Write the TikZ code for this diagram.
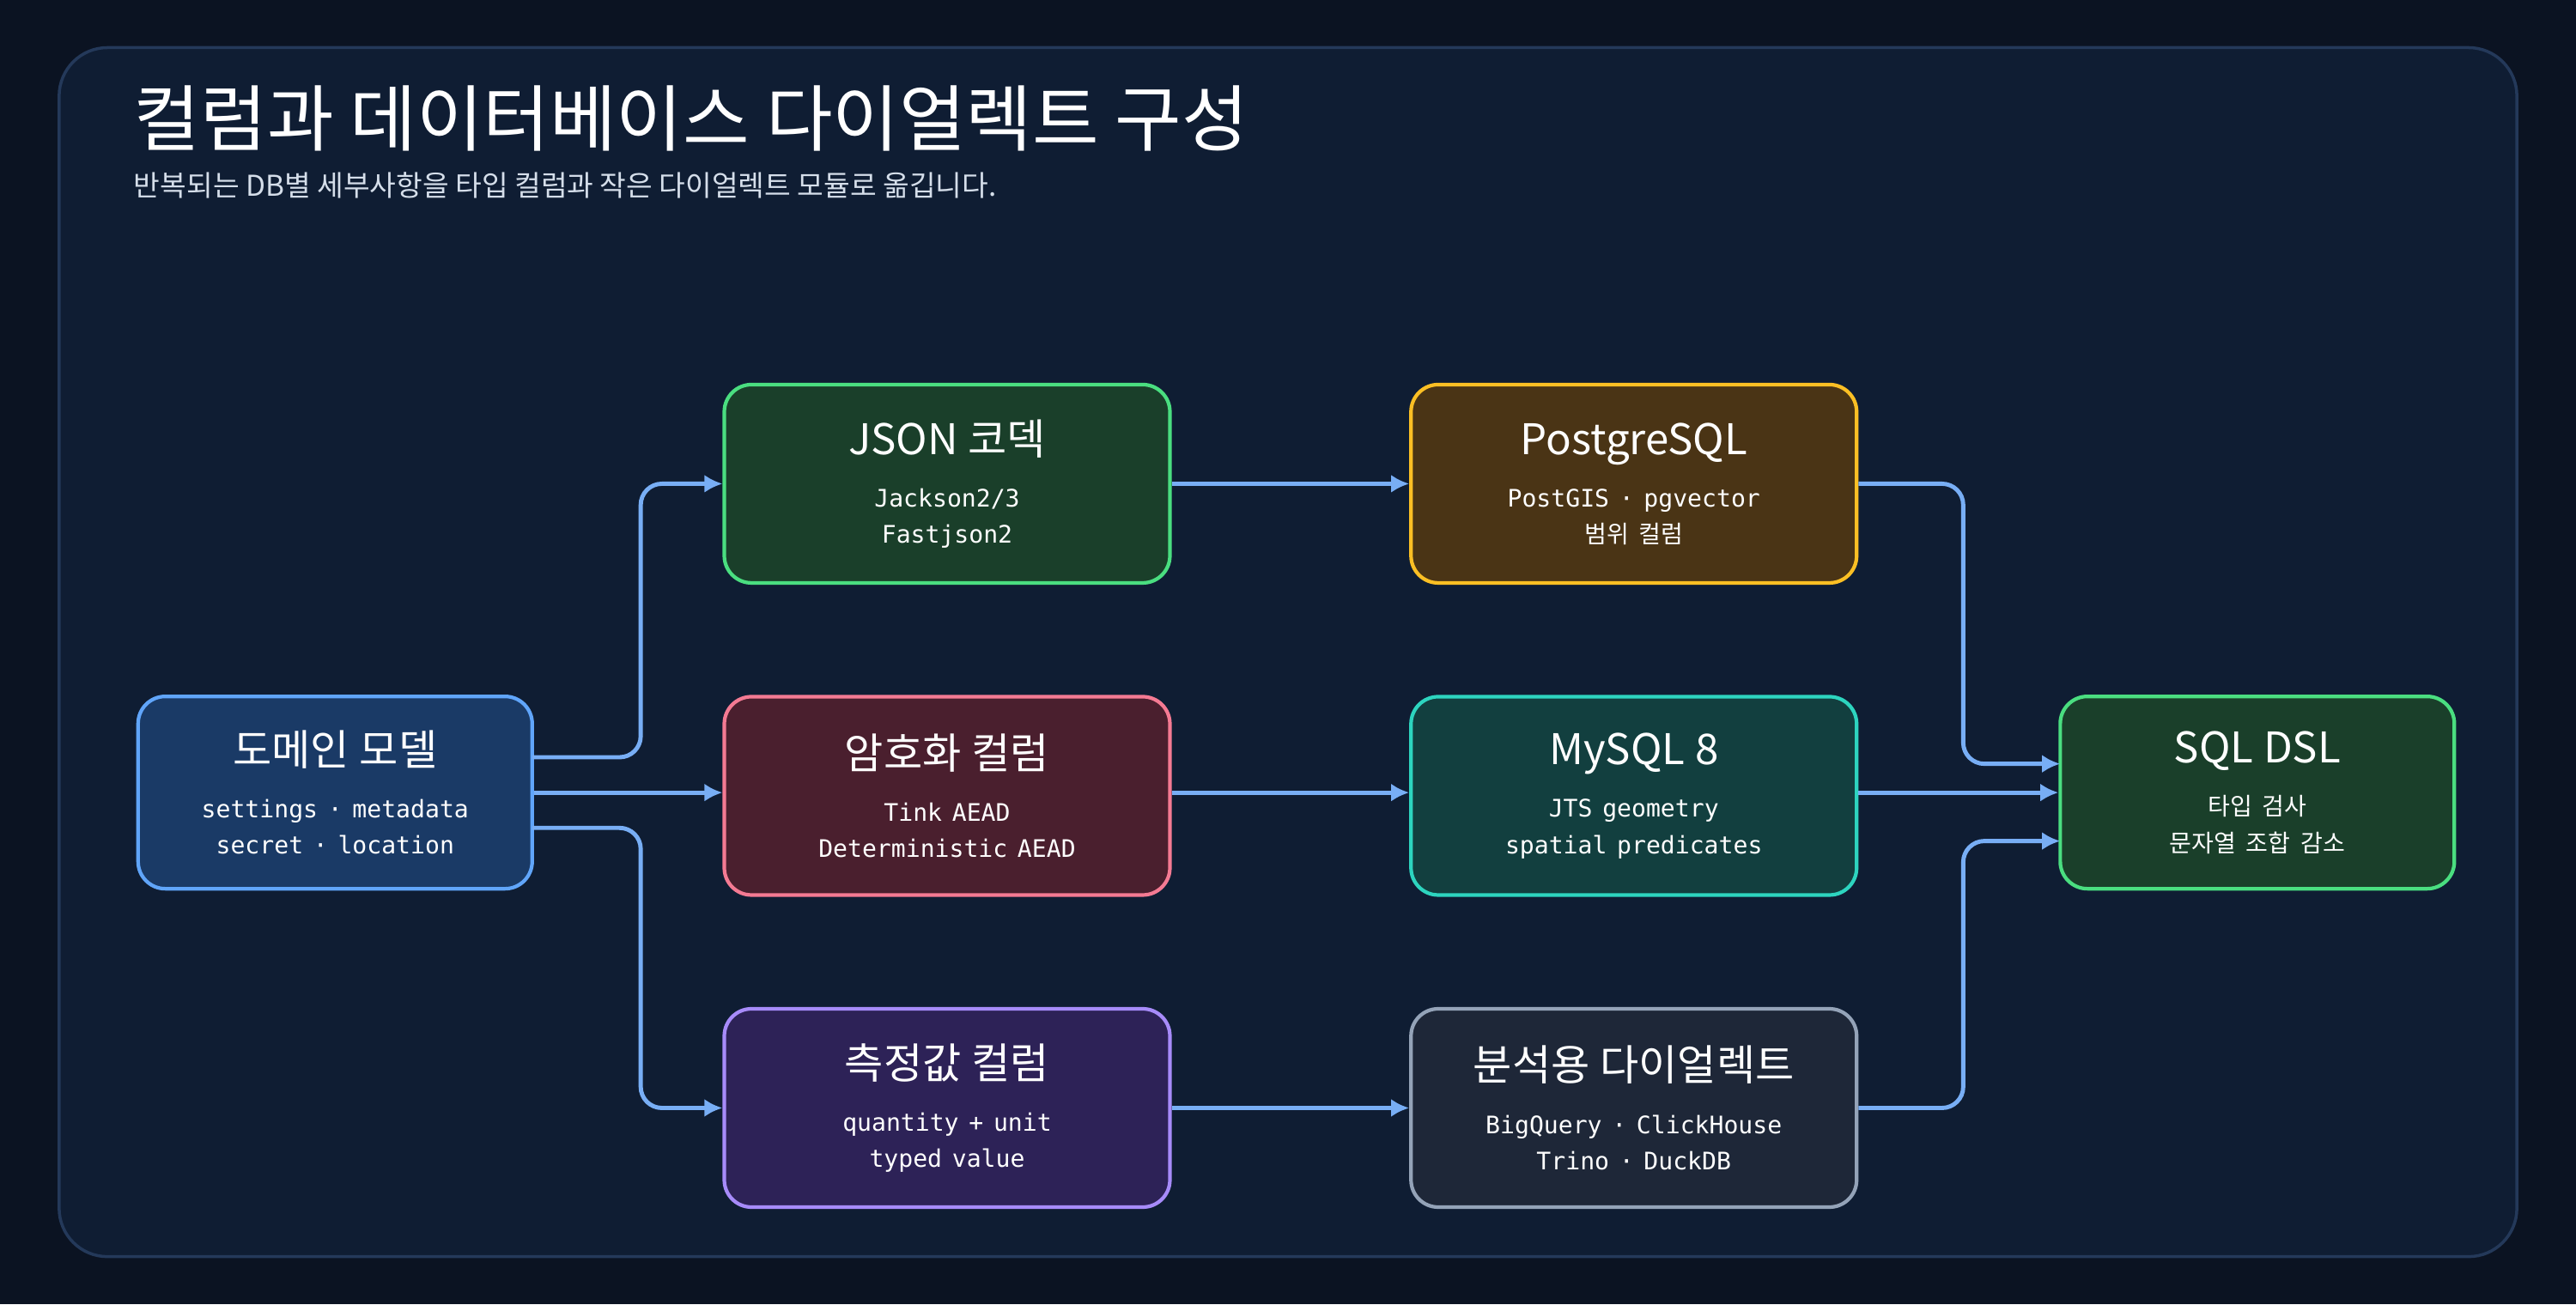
\documentclass[tikz,border=0pt]{standalone}
\usepackage{fontspec}
\setmainfont{Noto Sans CJK KR}
\setmonofont{DejaVu Sans Mono}
\newfontfamily\kr{Noto Sans CJK KR}
\usetikzlibrary{arrows.meta,positioning}

\definecolor{pagebg}{HTML}{0B1322}
\definecolor{panelbg}{HTML}{0F1D33}
\definecolor{panelln}{HTML}{24395A}
\definecolor{flow}{HTML}{78AEF5}
\definecolor{subtx}{HTML}{D5DEEA}
\definecolor{domfill}{HTML}{1A3A66}\definecolor{domline}{HTML}{60A5FA}
\definecolor{grnfill}{HTML}{1A3F2A}\definecolor{grnline}{HTML}{4ADE80}
\definecolor{redfill}{HTML}{4A1F2E}\definecolor{redline}{HTML}{F47A93}
\definecolor{purfill}{HTML}{2D2257}\definecolor{purline}{HTML}{A78BFA}
\definecolor{ambfill}{HTML}{4A3415}\definecolor{ambline}{HTML}{FBBF24}
\definecolor{tealfill}{HTML}{123F3F}\definecolor{tealline}{HTML}{2DD4BF}
\definecolor{slfill}{HTML}{1E2738}\definecolor{slline}{HTML}{94A3B8}

\tikzset{
  card/.style 2 args={draw=#2, fill=#1, line width=1.2pt, rounded corners=9pt,
    text=white, align=center, inner sep=0pt},
  wire/.style={draw=flow, line width=1.4pt, rounded corners=7pt, -{Latex[length=6pt,width=6pt]}}
}
\newcommand{\cardtext}[3]{{\fontsize{14}{16}\selectfont #1}\\[6pt]%
  {\fontsize{8}{11.4}\selectfont #2\\ #3}}

\begin{document}
\begin{tikzpicture}[x=0.01913cm,y=-0.01913cm]
\fill[pagebg] (0,0) rectangle (1568,794);
\useasboundingbox (0,0) rectangle (1568,794);
\draw[panelln, fill=panelbg, line width=1pt, rounded corners=16pt] (36,29) rectangle (1532,765);

\node (title) at (75,72) [anchor=west, text=white] {\fontsize{24}{28}\selectfont 컬럼과 데이터베이스 다이얼렉트 구성};
\node (sub) at (75,113) [anchor=west, text=subtx] {\fontsize{9.5}{12}\selectfont 반복되는 DB별 세부사항을 타입 컬럼과 작은 다이얼렉트 모듈로 옮깁니다.};

% column 1
\node (dom) at (204,482.5) [card={domfill}{domline}, text width=4.59cm, minimum height=2.24cm]
  {\cardtext{도메인 모델}{\ttfamily settings · metadata}{\ttfamily secret · location}};

% column 2
\node (json) at (576.5,294.5) [card={grnfill}{grnline}, text width=5.19cm, minimum height=2.31cm]
  {\cardtext{JSON 코덱}{\ttfamily Jackson2/3}{\ttfamily Fastjson2}};
\node (enc) at (576.5,484.5) [card={redfill}{redline}, text width=5.19cm, minimum height=2.31cm]
  {\cardtext{암호화 컬럼}{\ttfamily Tink AEAD}{\ttfamily Deterministic AEAD}};
\node (meas) at (576.5,674.5) [card={purfill}{purline}, text width=5.19cm, minimum height=2.31cm]
  {\cardtext{측정값 컬럼}{\ttfamily quantity + unit}{\ttfamily typed value}};

% column 3
\node (pg) at (994.5,294.5) [card={ambfill}{ambline}, text width=5.19cm, minimum height=2.31cm]
  {\cardtext{PostgreSQL}{\ttfamily PostGIS · pgvector}{\kr 범위 컬럼}};
\node (my) at (994.5,484.5) [card={tealfill}{tealline}, text width=5.19cm, minimum height=2.31cm]
  {\cardtext{MySQL 8}{\ttfamily JTS geometry}{\ttfamily spatial predicates}};
\node (ana) at (994.5,674.5) [card={slfill}{slline}, text width=5.19cm, minimum height=2.31cm]
  {\cardtext{분석용 다이얼렉트}{\ttfamily BigQuery · ClickHouse}{\ttfamily Trino · DuckDB}};

% column 4
\node (dsl) at (1374,482.5) [card={grnfill}{grnline}, text width=4.59cm, minimum height=2.24cm]
  {\cardtext{SQL DSL}{\kr 타입 검사}{\kr 문자열 조합 감소}};

\coordinate (d1) at (324,461);
\coordinate (d3) at (324,504);
\draw[wire] (d1) -- (390,461) -- (390,294.5) -- (json.west);
\draw[wire] (dom.east) -- (enc.west |- dom.east);
\draw[wire] (d3) -- (390,504) -- (390,674.5) -- (meas.west);

\draw[wire] (json) -- (pg);
\draw[wire] (enc.east |- dom.east) -- (my.west |- dom.east);
\draw[wire] (meas) -- (ana);

\coordinate (s1) at (1254,465);
\coordinate (s3) at (1254,512);
\draw[wire] (pg.east) -- (1195,294.5) -- (1195,465) -- (s1);
\draw[wire] (my.east |- dom.east) -- (dsl.west);
\draw[wire] (ana.east) -- (1195,674.5) -- (1195,512) -- (s3);
\end{tikzpicture}
\end{document}
